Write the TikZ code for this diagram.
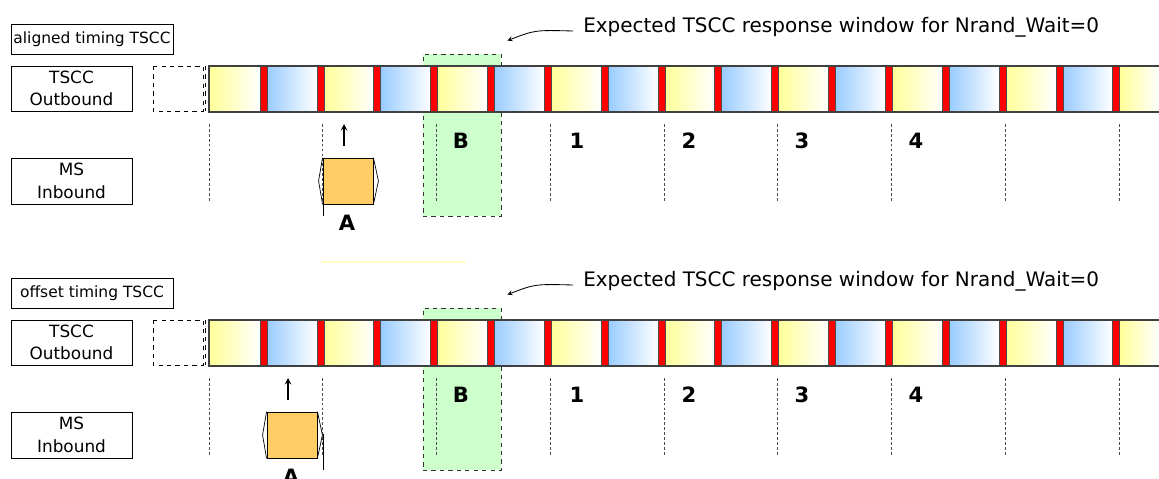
\documentclass[tikz,border=0pt]{standalone}
\usepackage{fontspec}
\setmainfont{DejaVu Sans}
\usetikzlibrary{positioning,calc,arrows}

\definecolor{slotyellow}{HTML}{FFFF99}
\definecolor{slotblue}{HTML}{99CCFF}
\definecolor{winGreen}{HTML}{CCFFCC}
\definecolor{burstOrange}{HTML}{FFCC66}
\def\px{0.025cm}

\tikzset{
	lblbox/.style={draw, line width=0.6pt, inner sep=0pt, align=center,
		font=\fontsize{12}{16}\selectfont},
	slotY/.style={left color=slotyellow, right color=white},
	slotB/.style={left color=slotblue, right color=white},
	sepbar/.style={fill=red, draw=black!70, line width=0.5pt},
	tick/.style={draw=black!70, line width=0.6pt, dash pattern=on 2pt off 1.5pt},
	bignum/.style={font=\fontsize{15}{18}\selectfont\bfseries}
}

\begin{document}
\begin{tikzpicture}[x=\px, y=-\px]
		\useasboundingbox (0,0) rectangle (1159,479);
		\draw[slotyellow!60, line width=1pt] (322,262) -- (466,262);
		\foreach \r/\dy/\timing/\ax in {1/0/aligned/323, 2/254/offset/267}{
			\node[lblbox, font=\fontsize{11}{14}\selectfont, minimum width=162*\px, minimum height=30*\px] (mode\r) at (92,39+\dy) {\timing\ timing TSCC};
			\node[lblbox, minimum width=121*\px, minimum height=45*\px] (outb\r) at (71.5,88.5+\dy) {TSCC\\Outbound};
			\node[lblbox, minimum width=121*\px, minimum height=46*\px] (msin\r) at (71.5,181+\dy) {MS\\Inbound};
			\node[draw=black!80, fill=winGreen, dashed, line width=0.6pt, minimum width=78*\px, minimum height=162*\px, inner sep=0pt] (win\r) at (462,135+\dy) {};
			\draw[dashed, line width=0.6pt] (153,66+\dy) rectangle (203,111+\dy) (205,66+\dy) -- (205,111+\dy);
			\foreach \k in {0,2,...,16}{
				\pgfmathsetmacro\xa{max(209,267+56.85*(\k-1))}
				\pgfmathsetmacro\xb{min(1159,260+56.85*\k)}
				\fill[slotY] (\xa,66+\dy) rectangle (\xb,112+\dy);
			}
			\foreach \k in {1,3,...,15}{
				\fill[slotB] (267+56.85*\k-56.85,66+\dy) rectangle (260+56.85*\k,112+\dy);
			}
			\foreach \k in {0,...,15}
				\filldraw[sepbar] (260+56.85*\k,66+\dy) rectangle ++(7,46);
			\draw[black!75, line width=0.8pt] (1160,66+\dy) -- (209,66+\dy) -- (209,112+\dy) -- (1160,112+\dy);
			\foreach \t in {0,...,8}
				\draw[tick] (209+113.75*\t,124+\dy) -- (209+113.75*\t,202+\dy);
			\foreach \n/\xx in {B/461,1/577,2/689,3/802,4/916}
				\node[bignum] (num\n\r) at (\xx,141+\dy) {\n};
			\draw[line width=0.6pt] (323,180+\dy) -- (323,216+\dy);
			\node[draw, fill=burstOrange, line width=0.6pt, minimum width=50*\px, minimum height=46*\px, inner sep=0pt] (burst\r) at (\ax+25,181+\dy) {};
			\draw[line width=0.5pt] (burst\r.north west) -- ($(burst\r.west)+(-4,0)$) -- (burst\r.south west)
				(burst\r.north east) -- ($(burst\r.east)+(5,0)$) -- (burst\r.south east);
			\draw[-stealth, line width=1pt] (\ax+21,146+\dy) -- (\ax+21,124+\dy);
			\node[bignum] (lblA\r) at (\ax+24,223+\dy) {A};
			\node[anchor=west, font=\fontsize{14.2}{17}\selectfont, inner sep=0pt] (note\r) at (583,27+\dy) {Expected TSCC response window for Nrand\_Wait=0};
			\draw[-stealth, line width=0.6pt] ($(note\r.west)+(-10,4)$) .. controls (535,30+\dy) .. ($(win\r.north east)+(6,-13)$);
		}
		\end{tikzpicture}
\end{document}
